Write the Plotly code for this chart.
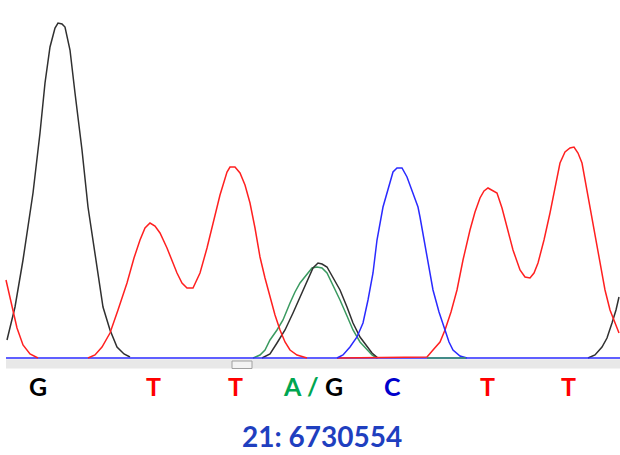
import plotly.graph_objects as go

# ---- trace data (x position, signal height above baseline) ----
G_x = [7, 15, 23, 33, 40, 45, 50, 55, 58, 62, 65, 70, 75, 82, 88, 97, 103, 110, 117, 124, 130, None,
       262, 270, 277, 285, 293, 300, 307, 313, 318, 322, 327, 333, 340, 347, 353, 360, 367, 372, 378, None,
       588, 595, 602, 607, 612, 616, 619]
G_y = [18, 51, 98, 165, 225, 275, 311, 330, 335, 334, 331, 308, 265, 208, 151, 91, 51, 28, 11, 4, 1, None,
       0, 4, 15, 28, 45, 61, 78, 90, 95, 94, 91, 81, 68, 51, 35, 21, 11, 5, 0, None,
       0, 3, 11, 20, 35, 48, 61]

A_x = [253, 260, 265, 270, 277, 283, 290, 295, 300, 306, 312, 317, 322, 327, 333, 340, 347, 353, 360, 367, 372, 377]
A_y = [0, 3, 8, 18, 28, 38, 55, 66, 75, 83, 90, 91, 90, 85, 73, 58, 42, 28, 16, 8, 3, 0]
A_base_x = [427, 466]
A_base_y = [0, 0]

T_x = [6, 10, 13, 17, 23, 30, 38, None,
       88, 95, 102, 110, 118, 127, 134, 140, 145, 150, 155, 160, 167, 177, 182, 187, 193, 200, 207, 213,
       220, 227, 230, 235, 240, 245, 250, 255, 260, 265, 270, 275, 280, 285, 290, 297, 307, None,
       337, 427, 433, 440, 445, 451, 457, 463, 470, 475, 480, 484, 488, 492, 497, 502, 507, 513, 520, 525,
       530, 534, 538, 544, 550, 555, 560, 565, 570, 574, 578, 582, 586, 590, 595, 600, 605, 610, 615, 619]
T_y = [78, 60, 45, 30, 13, 4, 0, None,
       0, 3, 11, 25, 48, 75, 100, 118, 130, 135, 132, 125, 110, 85, 75, 70, 70, 85, 110, 135,
       163, 186, 191, 191, 185, 173, 155, 130, 101, 80, 61, 43, 28, 16, 8, 3, 0, None,
       0, 1, 8, 16, 28, 46, 68, 98, 128, 146, 160, 167, 170, 168, 165, 150, 131, 108, 88, 81,
       80, 85, 95, 118, 145, 170, 195, 206, 210, 211, 205, 195, 173, 151, 123, 95, 68, 48, 35, 25]

C_x = [337, 343, 350, 357, 363, 368, 373, 377, 383, 387, 393, 397, 402, 407, 413, 418, 420, 427, 433,
       439, 445, 449, 453, 460, 467]
C_y = [0, 3, 11, 21, 35, 58, 85, 118, 151, 165, 186, 190, 190, 181, 165, 151, 141, 102, 68,
       46, 28, 16, 8, 2, 0]
C_base_x = [6, 620]
C_base_y = [0, 0]

# base calls
call_x = [38, 153, 235, 292, 313, 334, 392, 487, 568]
call_text = ["G", "T", "T", "A", "/", "G", "C", "T", "T"]
call_color = ["#000000", "#ff0000", "#ff0000", "#00a651", "#00a651", "#000000", "#0000cc", "#ff0000", "#ff0000"]
position_label = "21: 6730554"

COL_G = "#303030"
COL_A = "#3a9a60"
COL_T = "#ff2020"
COL_C = "#2a2aff"
LW = 1.5

fig = go.Figure()
fig.add_trace(go.Scatter(x=A_x, y=A_y, mode="lines", line=dict(color=COL_A, width=LW), hoverinfo="skip"))
fig.add_trace(go.Scatter(x=G_x, y=G_y, mode="lines", line=dict(color=COL_G, width=LW), hoverinfo="skip"))
fig.add_trace(go.Scatter(x=C_base_x, y=C_base_y, mode="lines", line=dict(color=COL_C, width=LW), hoverinfo="skip"))
fig.add_trace(go.Scatter(x=T_x, y=T_y, mode="lines", line=dict(color=COL_T, width=LW), hoverinfo="skip"))
fig.add_trace(go.Scatter(x=C_x, y=C_y, mode="lines", line=dict(color=COL_C, width=LW), hoverinfo="skip"))
fig.add_trace(go.Scatter(x=A_base_x, y=A_base_y, mode="lines", line=dict(color=COL_A, width=LW), hoverinfo="skip"))

# scrollbar strip under the baseline
fig.add_shape(type="rect", x0=6, x1=620, y0=-1.2, y1=-10.5, fillcolor="#e8e8e8",
              line=dict(width=0), layer="below")
fig.add_shape(type="rect", x0=232, x1=252, y0=-3, y1=-10.5, fillcolor="#f3f3f3",
              line=dict(color="#a0a0a0", width=1), layer="below")

for x, t, c in zip(call_x, call_text, call_color):
    fig.add_annotation(x=x, y=-28, text="<b>" + t + "</b>", showarrow=False,
                       font=dict(family="Lato", size=25, color=c),
                       xanchor="center", yanchor="middle")

fig.add_annotation(x=322, y=-78, text="<b>" + position_label + "</b>", showarrow=False,
                   font=dict(family="Lato", size=28, color="#1f3fbf"),
                   xanchor="center", yanchor="middle")

fig.update_layout(
    width=620, height=455,
    margin=dict(l=0, r=0, t=0, b=0),
    paper_bgcolor="white", plot_bgcolor="white",
    showlegend=False,
    xaxis=dict(range=[0, 620], visible=False, fixedrange=True),
    yaxis=dict(range=[-97, 358], visible=False, fixedrange=True),
)

fig.write_html("out.html", config={"displayModeBar": False},
               post_script="document.body.style.margin='0px';document.body.style.overflow='hidden';")
